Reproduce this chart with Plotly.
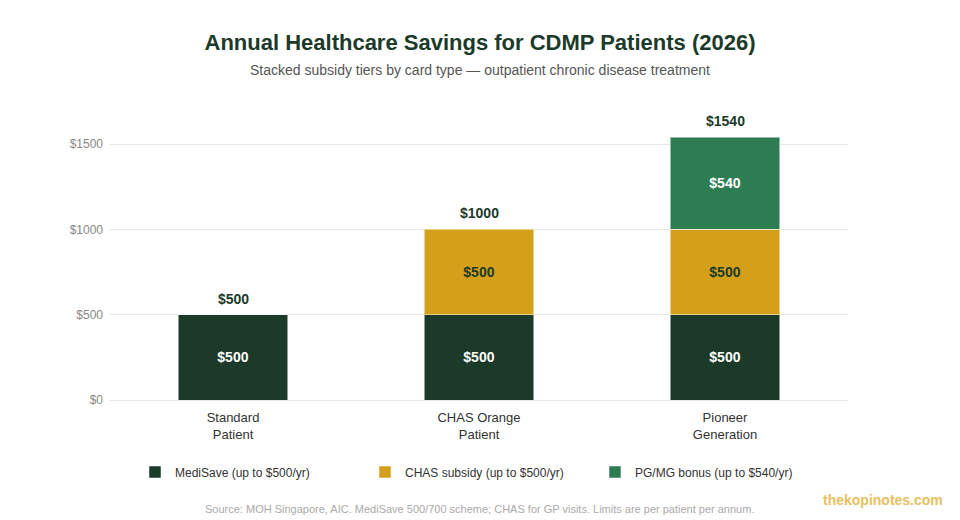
import plotly.graph_objects as go

# Card types (x categories) and subsidy tiers
categories = ["Standard<br>Patient", "CHAS Orange<br>Patient", "Pioneer<br>Generation"]
medisave = [500, 500, 500]
chas = [None, 500, 500]
pg_bonus = [None, None, 540]
totals = [500, 1000, 1540]

# name, values, fill colour, label colour
series = [
    ("MediSave (up to $500/yr)", medisave, "#1c3a2a", "white"),
    ("CHAS subsidy (up to $500/yr)", chas, "#d4a01a", "#1c3a2a"),
    ("PG/MG bonus (up to $540/yr)", pg_bonus, "#2e7d52", "white"),
]

FONT = "Liberation Sans, Arial, Helvetica, sans-serif"

fig = go.Figure()

for name, vals, color, txtcolor in series:
    fig.add_trace(go.Bar(
        x=categories,
        y=vals,
        name=name,
        marker=dict(color=color, line=dict(color="rgba(255,255,255,0.5)", width=1)),
        text=[f"${v}" if v else "" for v in vals],
        textposition="inside",
        insidetextanchor="middle",
        textfont=dict(family=FONT, size=14, color=txtcolor, weight="bold"),
        hoverinfo="skip",
    ))

# total labels above each stack
for cat, t in zip(categories, totals):
    fig.add_annotation(
        x=cat, y=t, text=f"<b>${t}</b>",
        xanchor="center", yanchor="bottom", yshift=6,
        font=dict(family=FONT, size=14, color="#1c3a2a"),
        showarrow=False,
    )

# page body has an 8px margin, so the layout is shifted up/left by 8px
fig.update_layout(
    width=960,
    height=520,
    barmode="stack",
    bargap=0.553,
    paper_bgcolor="white",
    plot_bgcolor="white",
    font=dict(family=FONT, color="#333"),
    margin=dict(l=102, r=120, t=102, b=128),
    title=dict(
        text="<b>Annual Healthcare Savings for CDMP Patients (2026)</b>",
        x=(480 - 8) / 960, xanchor="center", y=1 - (42 - 8) / 520, yanchor="middle",
        font=dict(family=FONT, size=22, color="#1c3a2a"),
    ),
    legend=dict(
        orientation="h", x=(135 - 110) / 738, xanchor="left",
        y=-(472 - 400) / 290, yanchor="middle",
        font=dict(family=FONT, size=12, color="#333"),
        itemwidth=30, traceorder="normal",
        entrywidth=185,
    ),
    showlegend=True,
)

fig.update_xaxes(
    showgrid=False, showline=False, ticks="",
    tickfont=dict(size=13, color="#333"),
    ticklabelstandoff=8,
)
fig.update_yaxes(
    range=[0, 1700],
    tickvals=[0, 500, 1000, 1500],
    ticktext=["$0", "$500", "$1000", "$1500"],
    showgrid=True, gridcolor="#e6e6e6", gridwidth=1,
    zeroline=True, zerolinecolor="#e6e6e6", zerolinewidth=1,
    tickfont=dict(size=12, color="#888"),
    ticklabelstandoff=6,
)

fig.add_annotation(
    text="Stacked subsidy tiers by card type — outpatient chronic disease treatment",
    xref="paper", yref="paper", x=(480 - 110) / 738, y=(400 - 70) / 290,
    xanchor="center", yanchor="middle",
    font=dict(family=FONT, size=14, color="#555"),
    showarrow=False,
)
fig.add_annotation(
    text="Source: MOH Singapore, AIC. MediSave 500/700 scheme; CHAS for GP visits. Limits are per patient per annum.",
    xref="paper", yref="paper", x=(480 - 110) / 738, y=-(509 - 400) / 290,
    xanchor="center", yanchor="middle",
    font=dict(family=FONT, size=11, color="#aaa"),
    showarrow=False,
)
fig.add_annotation(
    text="<b>thekopinotes.com</b>",
    xref="paper", yref="paper", x=(945 - 110) / 738, y=-(500 - 400) / 290,
    xanchor="right", yanchor="middle",
    font=dict(family=FONT, size=14, color="#e8c060"),
    showarrow=False,
)

fig.write_html("out.html")
